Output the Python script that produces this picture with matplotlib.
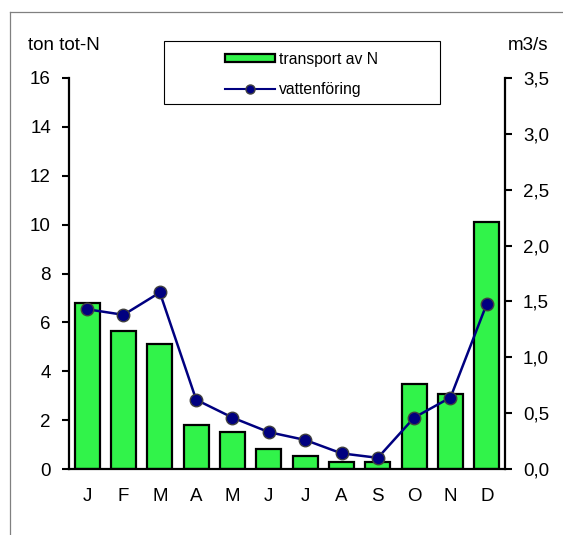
import matplotlib
matplotlib.use("Agg")
import matplotlib.pyplot as plt
from matplotlib.lines import Line2D
from matplotlib.patches import Patch, Rectangle
from matplotlib.ticker import FuncFormatter

plt.rcParams['font.family'] = ['Liberation Sans', 'DejaVu Sans']

months = ["J", "F", "M", "A", "M", "J", "J", "A", "S", "O", "N", "D"]
transport_n = [6.80, 5.65, 5.13, 1.80, 1.50, 0.80, 0.55, 0.29, 0.30, 3.48, 3.05, 10.1]
vattenforing = [1.43, 1.38, 1.58, 0.62, 0.46, 0.33, 0.26, 0.14, 0.10, 0.46, 0.64, 1.48]
left_ticks = [0, 2, 4, 6, 8, 10, 12, 14, 16]
right_ticks = [0.0, 0.5, 1.0, 1.5, 2.0, 2.5, 3.0, 3.5]

W, H = 563, 535
fig = plt.figure(figsize=(W / 100, H / 100), dpi=100)

# outer chart frame (top and left edges visible)
fig.add_artist(Line2D([10 / W, 1.0], [1 - 12 / H, 1 - 12 / H], transform=fig.transFigure,
                      color="#808080", lw=0.9))
fig.add_artist(Line2D([10 / W, 10 / W], [0, 1 - 12 / H], transform=fig.transFigure,
                      color="#808080", lw=0.9))

ax = fig.add_axes([69 / W, 1 - 469 / H, (505 - 69) / W, (469 - 78) / H])
x = list(range(len(months)))
ax.bar(x, transport_n, width=0.68, color="#31F34A", edgecolor="black", linewidth=1.6, zorder=2)
ax.set_xlim(-0.5, 11.5)
ax.set_ylim(0, 16)
ax.set_yticks(left_ticks)
ax.set_xticks(x)
ax.set_xticklabels(months)
ax.tick_params(axis="x", length=0, pad=14, labelsize=13.5)
ax.tick_params(axis="y", length=5, width=1.5, pad=8, labelsize=13.5, direction="out")
ax.spines["top"].set_visible(False)
ax.spines["right"].set_visible(False)
for s in ("left", "bottom"):
    ax.spines[s].set_linewidth(1.6)

ax2 = ax.twinx()
ax2.plot(x, vattenforing, color="#000080", lw=1.8, marker="o", markersize=9,
         markerfacecolor="#000080", markeredgecolor="#404040", markeredgewidth=1.0, zorder=3)
ax2.set_ylim(0, 3.5)
ax2.set_yticks(right_ticks)
ax2.yaxis.set_major_formatter(FuncFormatter(lambda v, p: f"{v:.1f}".replace(".", ",")))
ax2.tick_params(axis="y", length=5, width=1.5, pad=8, labelsize=13.5, direction="out")
for s in ("top", "left", "bottom"):
    ax2.spines[s].set_visible(False)
ax2.spines["right"].set_linewidth(1.6)

fig.text(28 / W, 1 - 45 / H, "ton tot-N", fontsize=13.5, va="center", ha="left")
fig.text(548 / W, 1 - 45 / H, "m3/s", fontsize=13.5, va="center", ha="right")

# legend box
fig.add_artist(Rectangle((164 / W, 1 - 104 / H), (440 - 164) / W, (104 - 41) / H,
                         transform=fig.transFigure, fill=False, edgecolor="black", lw=0.8))
handles = [
    Patch(facecolor="#31F34A", edgecolor="black", linewidth=1.6),
    Line2D([], [], color="#000080", lw=1.5, marker="o", markersize=6.5,
           markerfacecolor="#000080", markeredgecolor="#404040"),
]
fig.legend(handles, ["transport av N", "vattenföring"], loc="upper left",
           bbox_to_anchor=(223 / W, 1 - 50 / H), frameon=False, fontsize=11.3,
           handlelength=3.2, handleheight=0.5, handletextpad=0.25, labelspacing=1.0,
           borderpad=0.1, borderaxespad=0)

fig.savefig("out.png", dpi=100)
